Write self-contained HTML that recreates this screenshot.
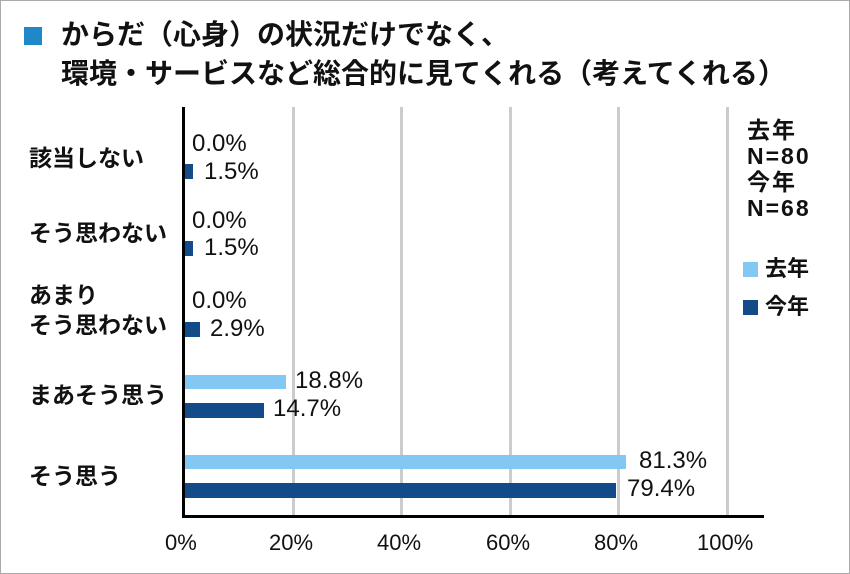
<!DOCTYPE html>
<html><head><meta charset="utf-8"><style>
body{margin:0;}
#c{position:relative;width:848px;height:572px;border:1px solid #aaa;background:#fff;overflow:hidden;font-family:"Liberation Sans","Noto Sans CJK JP",sans-serif;color:#111;}
.a{position:absolute;white-space:nowrap;}
.t{font-size:28px;font-weight:bold;line-height:32px;}
.cat{font-size:23px;font-weight:bold;line-height:30px;}
.v{font-size:24px;line-height:24px;}
.g{position:absolute;top:106px;height:410px;width:3px;background:#ccc;}
.l{position:absolute;left:184px;background:#82c8f2;height:14px;}
.d{position:absolute;left:184px;background:#124a8a;height:15px;}
.x{font-size:22px;top:529px;}
.lg{font-size:22px;font-weight:bold;line-height:26px;}
</style></head><body><div id="c">
<div class="a" style="left:23px;top:26px;width:18px;height:18px;background:#1e88c8"></div>
<div class="a t" style="left:60px;top:18px">からだ（心身）の状況だけでなく、</div>
<div class="a t" style="left:60px;top:57px">環境・サービスなど総合的に見てくれる（考えてくれる）</div>

<div class="g" style="left:291px"></div>
<div class="g" style="left:399px"></div>
<div class="g" style="left:508px"></div>
<div class="g" style="left:616px"></div>
<div class="g" style="left:725px"></div>
<div class="a" style="left:181px;top:106px;width:3px;height:411px;background:#000"></div>
<div class="a" style="left:181px;top:514px;width:582px;height:3px;background:#000"></div>

<div class="a cat" style="left:28px;top:142px">該当しない</div>
<div class="a cat" style="left:28px;top:217px">そう思わない</div>
<div class="a cat" style="left:28px;top:279px">あまり<br>そう思わない</div>
<div class="a cat" style="left:28px;top:379px">まあそう思う</div>
<div class="a cat" style="left:28px;top:460px">そう思う</div>

<div class="d" style="top:163px;width:8px"></div>
<div class="a v" style="left:191px;top:131px">0.0%</div>
<div class="a v" style="left:203px;top:159px">1.5%</div>

<div class="d" style="top:240px;width:8px"></div>
<div class="a v" style="left:191px;top:208px">0.0%</div>
<div class="a v" style="left:203px;top:235px">1.5%</div>

<div class="d" style="top:321px;width:15px"></div>
<div class="a v" style="left:191px;top:288px">0.0%</div>
<div class="a v" style="left:209px;top:316px">2.9%</div>

<div class="l" style="top:374px;width:101px"></div>
<div class="d" style="top:402px;width:79px"></div>
<div class="a v" style="left:294px;top:368px">18.8%</div>
<div class="a v" style="left:272px;top:396px">14.7%</div>

<div class="l" style="top:454px;width:441px"></div>
<div class="d" style="top:482px;width:431px"></div>
<div class="a v" style="left:638px;top:448px">81.3%</div>
<div class="a v" style="left:626px;top:476px">79.4%</div>

<div class="a x" style="left:164px">0%</div>
<div class="a x" style="left:268px">20%</div>
<div class="a x" style="left:376px">40%</div>
<div class="a x" style="left:485px">60%</div>
<div class="a x" style="left:593px">80%</div>
<div class="a x" style="left:696px">100%</div>

<div class="a lg" style="left:746px;top:116px;font-size:23px;letter-spacing:2px">去年<br>N=80<br>今年<br>N=68</div>
<div class="a" style="left:742px;top:261px;width:15px;height:15px;background:#82c8f2"></div>
<div class="a lg" style="left:764px;top:255px">去年</div>
<div class="a" style="left:742px;top:299px;width:15px;height:15px;background:#124a8a"></div>
<div class="a lg" style="left:764px;top:293px">今年</div>
</div></body></html>
